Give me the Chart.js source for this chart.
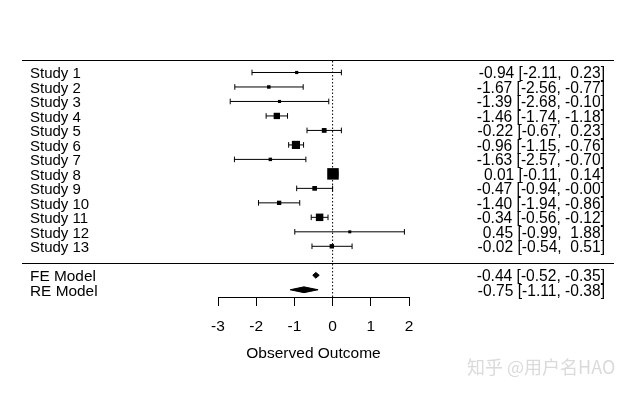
<!DOCTYPE html>
<html>
<head>
<meta charset="utf-8">
<script src="https://cdn.jsdelivr.net/npm/chart.js@4.4.1/dist/chart.umd.min.js"></script>
<style>
    html, body { margin: 0; padding: 0; background: #fff; }
    #container-forest { position: relative; width: 636px; height: 393px; }
</style>
</head>
<body>
<div id="container-forest"><canvas id="forestChart" width="636" height="393"></canvas></div>
<script>
// study level data
var studyLabels = ['Study 1', 'Study 2', 'Study 3', 'Study 4', 'Study 5', 'Study 6', 'Study 7',
    'Study 8', 'Study 9', 'Study 10', 'Study 11', 'Study 12', 'Study 13'];
var studyEst = [-0.94, -1.67, -1.39, -1.46, -0.22, -0.96, -1.63, 0.01, -0.47, -1.40, -0.34, 0.45, -0.02];
var studyLower = [-2.11, -2.56, -2.68, -1.74, -0.67, -1.15, -2.57, -0.11, -0.94, -1.94, -0.56, -0.99, -0.54];
var studyUpper = [0.23, -0.77, -0.10, -1.18, 0.23, -0.76, -0.70, 0.14, -0.00, -0.86, -0.12, 1.88, 0.51];

// pooled models
var modelLabels = ['FE Model', 'RE Model'];
var modelEst = [-0.44, -0.75];
var modelLower = [-0.52, -1.11];
var modelUpper = [-0.35, -0.38];

var xTicks = [-3, -2, -1, 0, 1, 2];
var xTitle = 'Observed Outcome';
var watermark = '知乎 @用户名HAO';

// rows: study 1 on top, models at the bottom
var studyRows = studyLabels.map(function (s, i) { return studyLabels.length + 2 - i; });
var modelRows = [1, 0];
var topLineRow = 15.85;
var sepLineRow = 1.85;

var font = '"Liberation Sans", Arial, Helvetica, sans-serif';

function fmt(v) {
    var neg = v < 0 || Object.is(v, -0);
    return (neg ? '-' : ' ') + Math.abs(v).toFixed(2);
}

function rowText(e, lo, hi) {
    return fmt(e) + ' [' + fmt(lo) + ', ' + fmt(hi) + ']';
}

// square size follows the precision (1/SE) of each study
var precision = studyLower.map(function (lo, i) { return 3.92 / (studyUpper[i] - lo); });
var pMin = Math.min.apply(null, precision);
var pMax = Math.max.apply(null, precision);
var squareRadius = precision.map(function (p) {
    var side = 3 + (p - pMin) / (pMax - pMin) * 8.5;
    return side / Math.SQRT2;
});

var datasets = [];

// confidence intervals with end ticks
studyLabels.forEach(function (s, i) {
    datasets.push({
        type: 'line',
        data: [{ x: studyLower[i], y: studyRows[i] }, { x: studyUpper[i], y: studyRows[i] }],
        borderColor: '#000',
        borderWidth: 1,
        pointStyle: 'line',
        pointRotation: 90,
        pointRadius: 2.8,
        pointBorderColor: '#000',
        pointBorderWidth: 1,
        fill: false,
        clip: false
    });
});

// point estimates
datasets.push({
    type: 'scatter',
    data: studyEst.map(function (e, i) { return { x: e, y: studyRows[i] }; }),
    pointStyle: 'rect',
    pointRadius: squareRadius,
    backgroundColor: '#000',
    borderColor: '#000',
    borderWidth: 0,
    clip: false
});

// summary diamonds
var dh = 0.2;
modelLabels.forEach(function (m, i) {
    var r = modelRows[i];
    datasets.push({
        type: 'line',
        data: [
            { x: modelLower[i], y: r },
            { x: modelEst[i], y: r + dh },
            { x: modelUpper[i], y: r },
            { x: modelEst[i], y: r - dh },
            { x: modelLower[i], y: r }
        ],
        borderColor: '#000',
        borderWidth: 1,
        backgroundColor: '#000',
        fill: 'shape',
        pointRadius: 0,
        tension: 0,
        clip: false
    });
});

// reference line at zero
datasets.push({
    type: 'line',
    data: [{ x: 0, y: -0.5 }, { x: 0, y: topLineRow }],
    borderColor: '#000',
    borderWidth: 1,
    borderDash: [1.5, 2],
    pointRadius: 0,
    fill: false,
    clip: false
});

var textPlugin = {
    id: 'forestText',
    afterDatasetsDraw: function (chart) {
        var ctx = chart.ctx;
        var yScale = chart.scales.y;
        ctx.save();

        // horizontal rules
        ctx.strokeStyle = '#000';
        ctx.lineWidth = 1;
        [topLineRow, sepLineRow].forEach(function (r) {
            var y = Math.round(yScale.getPixelForValue(r)) + 0.5;
            ctx.beginPath();
            ctx.moveTo(22, y);
            ctx.lineTo(614, y);
            ctx.stroke();
        });

        ctx.fillStyle = '#000';
        ctx.textBaseline = 'alphabetic';

        studyLabels.forEach(function (s, i) {
            var y = yScale.getPixelForValue(studyRows[i]) + 6;
            ctx.font = '15px ' + font;
            ctx.textAlign = 'left';
            ctx.fillText(s, 30, y);
            ctx.font = '15.6px ' + font;
            ctx.textAlign = 'right';
            ctx.fillText(rowText(studyEst[i], studyLower[i], studyUpper[i]), 605, y);
        });

        modelLabels.forEach(function (m, i) {
            var y = yScale.getPixelForValue(modelRows[i]) + 6;
            ctx.font = '15.4px ' + font;
            ctx.textAlign = 'left';
            ctx.fillText(m, 30, y);
            ctx.font = '15.6px ' + font;
            ctx.textAlign = 'right';
            ctx.fillText(rowText(modelEst[i], modelLower[i], modelUpper[i]), 605, y);
        });

        // watermark
        ctx.font = '18px "Noto Sans CJK SC", sans-serif';
        ctx.fillStyle = '#dadada';
        ctx.textAlign = 'left';
        ctx.textBaseline = 'middle';
        ctx.fillText(watermark, 467, 367);
        ctx.restore();
    }
};

var canvas = document.getElementById('forestChart');
var chart = new Chart(canvas.getContext('2d'), {
    type: 'scatter',
    data: { datasets: datasets },
    plugins: [textPlugin],
    options: {
        responsive: false,
        maintainAspectRatio: false,
        animation: false,
        events: [],
        layout: { padding: { top: 58, left: 218, right: 227, bottom: 0 } },
        plugins: { legend: { display: false }, tooltip: { enabled: false } },
        scales: {
            x: {
                type: 'linear',
                min: xTicks[0],
                max: xTicks[xTicks.length - 1],
                afterBuildTicks: function (scale) {
                    scale.ticks = xTicks.map(function (v) { return { value: v }; });
                },
                afterFit: function (scale) {
                    scale.height = 96;
                    scale.paddingLeft = 0;
                    scale.paddingRight = 0;
                },
                grid: { drawOnChartArea: false, drawTicks: true, tickLength: 9, color: '#000', lineWidth: 1 },
                border: { display: true, color: '#000', width: 1 },
                ticks: {
                    color: '#000',
                    padding: 11,
                    font: { family: font, size: 15.5 },
                    maxRotation: 0,
                    callback: function (v) { return v; }
                },
                title: {
                    display: true,
                    text: xTitle,
                    color: '#000',
                    font: { family: font, size: 15.5 },
                    padding: { top: 4, bottom: 30 }
                }
            },
            y: {
                type: 'linear',
                display: false,
                min: -0.5,
                max: 16
            }
        }
    }
});
</script>
</body>
</html>
